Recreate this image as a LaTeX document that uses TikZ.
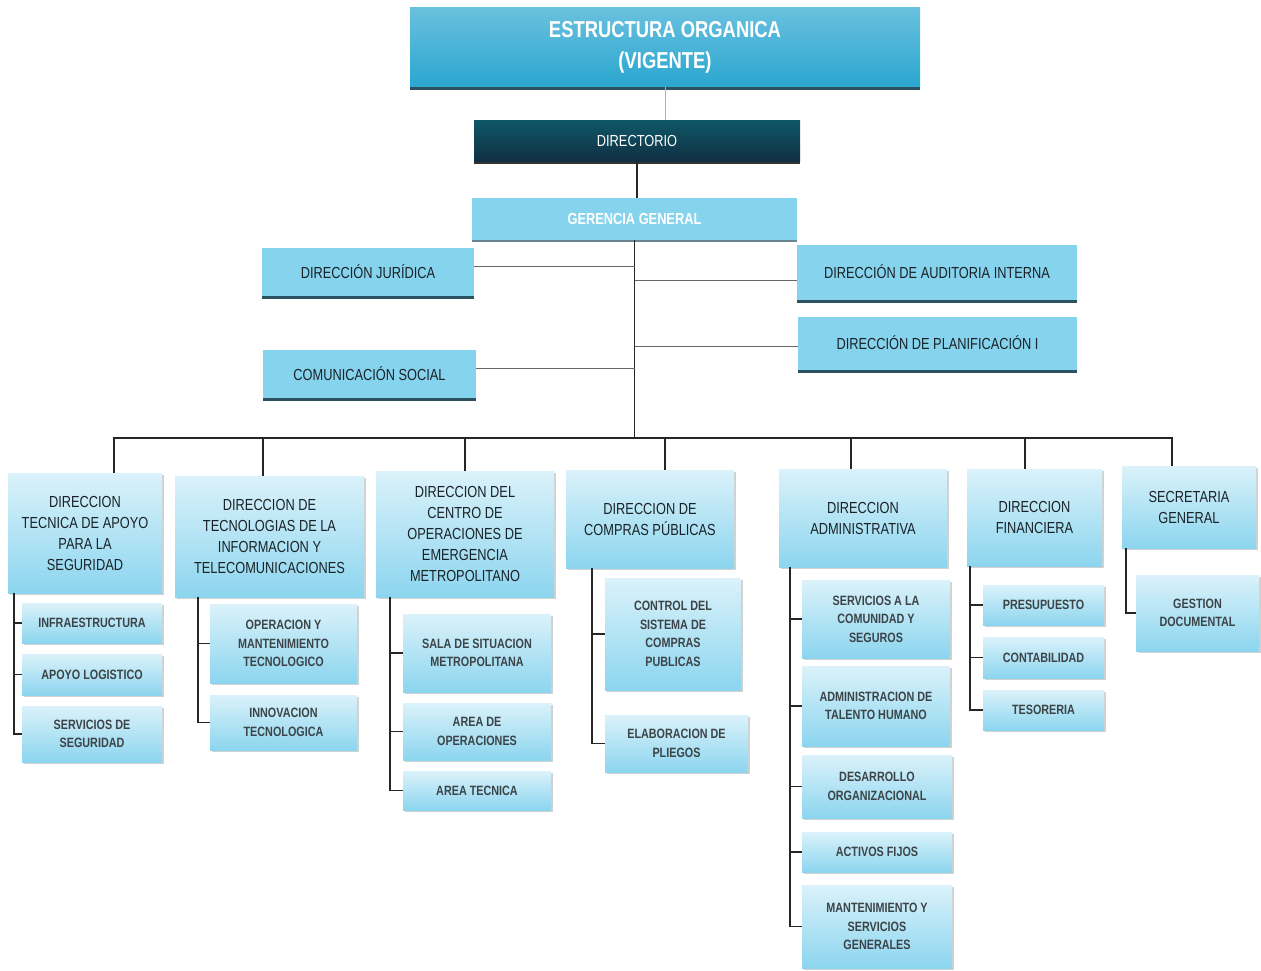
\documentclass[tikz,border=0pt]{standalone}
\usepackage{fontspec}
\setmainfont{Liberation Sans}[FakeStretch=0.8]
\usepackage{xcolor}
\usepackage{tikz}
\usetikzlibrary{shadows}

\definecolor{cielo}{HTML}{86D3EE}
\definecolor{cielotit}{HTML}{2AA6D0}
\definecolor{marino}{HTML}{112E42}
\definecolor{sombra}{HTML}{2B5163}
\definecolor{texto}{HTML}{1A2328}

\tikzset{
  titulo/.style={top color=cielotit!70!white, bottom color=cielotit, text=white, align=center,
    font=\bfseries\fontsize{23}{31}\selectfont,
    drop shadow={shadow xshift=0pt, shadow yshift=-3pt, fill=sombra, opacity=1}},
  oscuro/.style={top color=marino!80!cyan, bottom color=marino, text=white,
    font=\fontsize{16}{20}\selectfont,
    drop shadow={shadow xshift=0pt, shadow yshift=-2pt, fill=black, opacity=.8}},
  gerencia/.style={fill=cielo, text=white, font=\bfseries\fontsize{16}{20}\selectfont,
    drop shadow={shadow xshift=0pt, shadow yshift=-2pt, fill=sombra, opacity=.7}},
  lateral/.style={fill=cielo, text=texto, font=\fontsize{16}{20}\selectfont,
    drop shadow={shadow xshift=0pt, shadow yshift=-3pt, fill=sombra, opacity=1}},
  direccion/.style={top color=cielo!30!white, bottom color=cielo!95, text=texto, align=center,
    font=\fontsize{16}{21}\selectfont,
    drop shadow={shadow xshift=1.5pt, shadow yshift=-2pt, fill=gray!60, opacity=.6}},
  unidad/.style={direccion, text=texto!85, font=\bfseries\fontsize{13.5}{18.5}\selectfont},
  linea/.style={line width=1.4pt, black!85},
  fina/.style={line width=.7pt, gray!80!black},
}

\begin{document}
\begin{tikzpicture}[x=1pt, y=-1pt]
  \useasboundingbox (0,0) rectangle (1261,970);

  % cabecera
  \node[titulo, minimum width=510, minimum height=79] (tit) at (665,47) {ESTRUCTURA ORGANICA\\(VIGENTE)};
  \node[oscuro, minimum width=326, minimum height=41] (dir) at (637,141) {DIRECTORIO};
  \node[gerencia, minimum width=325, minimum height=42] (ger) at (634.5,219) {GERENCIA GENERAL};

  % asesoria y apoyo
  \node[lateral, minimum width=212, minimum height=48] (jur) at (368,272) {DIRECCIÓN JURÍDICA};
  \node[lateral, minimum width=213, minimum height=48] (com) at (369.5,374) {COMUNICACIÓN SOCIAL};
  \node[lateral, minimum width=280, minimum height=55] (aud) at (937,272) {DIRECCIÓN DE AUDITORIA INTERNA};
  \node[lateral, minimum width=279, minimum height=53] (pla) at (937.5,343) {DIRECCIÓN DE PLANIFICACIÓN I};

  % direcciones
  \node[direccion, minimum width=154, minimum height=120] (d1) at (85,533) {DIRECCION\\TECNICA DE APOYO\\PARA LA\\SEGURIDAD};
  \node[direccion, minimum width=189, minimum height=121] (d2) at (269.5,536.5) {DIRECCION DE\\TECNOLOGIAS DE LA\\INFORMACION Y\\TELECOMUNICACIONES};
  \node[direccion, minimum width=178, minimum height=126] (d3) at (465,534) {DIRECCION DEL\\CENTRO DE\\OPERACIONES DE\\EMERGENCIA\\METROPOLITANO};
  \node[direccion, minimum width=168, minimum height=98] (d4) at (650,519) {DIRECCION DE\\COMPRAS PÚBLICAS};
  \node[direccion, minimum width=168, minimum height=98] (d5) at (863,518) {DIRECCION\\ADMINISTRATIVA};
  \node[direccion, minimum width=135, minimum height=97] (d6) at (1034.5,517.5) {DIRECCION\\FINANCIERA};
  \node[direccion, minimum width=134, minimum height=82] (d7) at (1189,507) {SECRETARIA\\GENERAL};

  % unidades
  \node[unidad, minimum width=140, minimum height=40] (s11) at (92,623) {INFRAESTRUCTURA};
  \node[unidad, minimum width=140, minimum height=41] (s12) at (92,674.5) {APOYO LOGISTICO};
  \node[unidad, minimum width=140, minimum height=56] (s13) at (92,734) {SERVICIOS DE\\SEGURIDAD};

  \node[unidad, minimum width=147, minimum height=79] (s21) at (283.5,643.5) {OPERACION Y\\MANTENIMIENTO\\TECNOLOGICO};
  \node[unidad, minimum width=147, minimum height=55] (s22) at (283.5,722.5) {INNOVACION\\TECNOLOGICA};

  \node[unidad, minimum width=148, minimum height=78] (s31) at (477,653) {SALA DE SITUACION\\METROPOLITANA};
  \node[unidad, minimum width=148, minimum height=57] (s32) at (477,731.5) {AREA DE\\OPERACIONES};
  \node[unidad, minimum width=148, minimum height=39] (s33) at (477,790.5) {AREA TECNICA};

  \node[unidad, minimum width=136, minimum height=112] (s41) at (673,634) {CONTROL DEL\\SISTEMA DE\\COMPRAS\\PUBLICAS};
  \node[unidad, minimum width=143, minimum height=57] (s42) at (676.5,743.5) {ELABORACION DE\\PLIEGOS};

  \node[unidad, minimum width=148, minimum height=78] (s51) at (876,619) {SERVICIOS A LA\\COMUNIDAD Y\\SEGUROS};
  \node[unidad, minimum width=148, minimum height=80] (s52) at (876,706) {ADMINISTRACION DE\\TALENTO HUMANO};
  \node[unidad, minimum width=150, minimum height=63] (s53) at (877,786.5) {DESARROLLO\\ORGANIZACIONAL};
  \node[unidad, minimum width=150, minimum height=40] (s54) at (877,852) {ACTIVOS FIJOS};
  \node[unidad, minimum width=150, minimum height=83] (s55) at (877,926.5) {MANTENIMIENTO Y\\SERVICIOS\\GENERALES};

  \node[unidad, minimum width=121, minimum height=40] (s61) at (1043.5,605) {PRESUPUESTO};
  \node[unidad, minimum width=121, minimum height=41] (s62) at (1043.5,657.5) {CONTABILIDAD};
  \node[unidad, minimum width=121, minimum height=40] (s63) at (1043.5,710) {TESORERIA};

  \node[unidad, minimum width=123, minimum height=76] (s71) at (1197.5,613) {GESTION\\DOCUMENTAL};

  % conectores
  \coordinate (bus) at (636,438);
  \draw[fina, gray!60] (tit.south) -- (tit.south |- dir.north);
  \draw[linea] (dir.south) -- (dir.south |- ger.north);
  \draw[linea, line width=1pt] (ger.south) -- (ger.south |- bus);
  \draw[fina] ([yshift=6pt]jur.east) -- ([yshift=6pt]jur.east -| ger.south);
  \draw[fina] ([yshift=6pt]com.east) -- ([yshift=6pt]com.east -| ger.south);
  \draw[fina] ([yshift=-8.5pt]aud.west) -- ([yshift=-8.5pt]aud.west -| ger.south);
  \draw[fina] ([yshift=-3.5pt]pla.west) -- ([yshift=-3.5pt]pla.west -| ger.south);

  \draw[linea] ([xshift=29pt]d1.north) -- ([xshift=29pt]d1.north |- bus) -- ([xshift=-17pt]d7.north |- bus) -- ([xshift=-17pt]d7.north);
  \foreach \d/\dx in {d2/-6.5,d3/0,d4/15,d5/-12,d6/-9.5}
    \draw[linea] ([xshift=\dx pt]\d.north) -- ([xshift=\dx pt]\d.north |- bus);

  \foreach \s in {s11,s12,s13}
    \draw[linea] ([xshift=6pt]d1.south west) |- (\s.west);
  \foreach \s in {s21,s22}
    \draw[linea] ([xshift=23pt]d2.south west) |- (\s.west);
  \foreach \s in {s31,s32,s33}
    \draw[linea] ([xshift=14pt]d3.south west) |- (\s.west);
  \foreach \s in {s41,s42}
    \draw[linea] ([xshift=26pt]d4.south west) |- (\s.west);
  \foreach \s in {s51,s52,s53,s54,s55}
    \draw[linea] ([xshift=11pt]d5.south west) |- (\s.west);
  \foreach \s in {s61,s62,s63}
    \draw[linea] ([xshift=3pt]d6.south west) |- (\s.west);
  \draw[linea] ([xshift=4pt]d7.south west) |- (s71.west);
\end{tikzpicture}
\end{document}
